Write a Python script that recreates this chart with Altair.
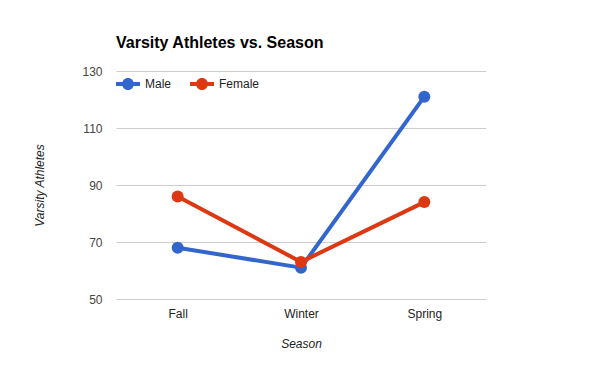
import altair as alt
import pandas as pd

seasons = ["Fall", "Winter", "Spring"]
male = [68, 61, 121]
female = [86, 63, 84]
series = ["Male", "Female"]
colors = ["#3366cc", "#dc3912"]
y_ticks = [50, 70, 90, 110, 130]

rows = []
for s, vals in zip(series, [male, female]):
    for season, v in zip(seasons, vals):
        rows.append({"Season": season, "Series": s, "LineSeries": s, "Athletes": v})
df = pd.DataFrame(rows)

FONT = "Arial, Liberation Sans, sans-serif"
SYMBOL = ("M-2,-0.33 L2,-0.33 L2,0.33 L-2,0.33 Z "
          "M0,-1 A1,1 0 1,1 0,1 A1,1 0 1,1 0,-1 Z")

x = alt.X("Season:N", sort=seasons, scale=alt.Scale(type="point", padding=0.5),
          axis=alt.Axis(title="Season", labelAngle=0, ticks=False, domain=False,
                        grid=False, labelPadding=9, titlePadding=19,
                        labelFontSize=12, labelColor="#222", titleFontSize=12,
                        titleFontStyle="italic", titleFontWeight="normal",
                        titleColor="#222", labelFont=FONT, titleFont=FONT))
y = alt.Y("Athletes:Q", scale=alt.Scale(domain=[50, 130], nice=False, zero=False),
          axis=alt.Axis(title="Varsity Athletes", values=y_ticks, ticks=False,
                        domain=False, gridColor="#cccccc", labelPadding=14,
                        titlePadding=35, labelFontSize=12, labelColor="#444",
                        titleFontSize=12, titleFontStyle="italic",
                        titleFontWeight="normal", titleColor="#222",
                        labelFont=FONT, titleFont=FONT))
color_scale = alt.Scale(domain=series, range=colors)

base = alt.Chart(df)
lines = base.mark_line(strokeWidth=4).encode(
    x=x, y=y,
    stroke=alt.Stroke("LineSeries:N", scale=color_scale, legend=None),
)
points = base.mark_point(filled=True, size=144, opacity=1, strokeWidth=0).encode(
    x=x, y=y,
    fill=alt.Fill("Series:N", scale=color_scale, sort=series,
                  legend=alt.Legend(title=None, orient="none", legendX=6, legendY=7,
                                    direction="horizontal", symbolType=SYMBOL,
                                    symbolSize=144, symbolStrokeWidth=0,
                                    symbolOpacity=1,
                                    labelOffset=11, columnPadding=18,
                                    labelFontSize=12, labelColor="#222",
                                    labelFont=FONT, padding=0)),
)

chart = alt.layer(lines, points).resolve_scale(fill="independent", stroke="independent").properties(
    width=370, height=228,
    title=alt.Title("Varsity Athletes vs. Season", anchor="start", fontSize=16,
                    fontWeight="bold", color="#000", font=FONT, offset=14,
                    frame="group"),
    padding={"left": 108, "top": 63, "right": 106, "bottom": 64},
    autosize=alt.AutoSizeParams(type="none"),
).configure_view(stroke=None)

chart.save("out.html", embed_options={"renderer": "svg", "actions": False})
